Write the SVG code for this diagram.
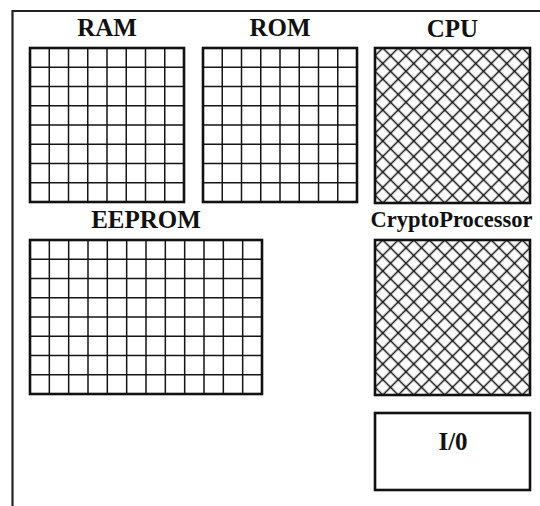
<svg xmlns="http://www.w3.org/2000/svg" width="540" height="506" viewBox="0 0 540 506">
  <style>
    .label { font-family: "Liberation Serif", "DejaVu Serif", serif; font-weight: bold; font-size: 25px; fill: #111; text-anchor: middle; }
    .box { fill: none; stroke: #111; stroke-width: 2.6; }
    .grid { fill: none; stroke: #151515; stroke-width: 1.5; }
    .frame { fill: none; stroke: #222; stroke-width: 2.2; }
  </style>
  <defs>
    <!-- diagonal cross-hatch used for the processing blocks -->
    <pattern id="hatch" patternUnits="userSpaceOnUse" width="10.96" height="10.96" patternTransform="rotate(45)">
      <path d="M0,5.48 H10.96 M5.48,0 V10.96" stroke="#111" stroke-width="1.5" fill="none"/>
    </pattern>
  </defs>

  <rect width="540" height="506" fill="#fff"/>

  <!-- chip outline (open to the right and bottom) -->
  <path class="frame" d="M12.5,506 V11 H540"/>

  <g id="ram">
    <text class="label" x="107" y="36">RAM</text>
    <path class="grid" d="M49.25,48 V202 M68.5,48 V202 M87.75,48 V202 M107,48 V202 M126.25,48 V202 M145.5,48 V202 M164.75,48 V202
      M30,67.25 H184 M30,86.5 H184 M30,105.75 H184 M30,125 H184 M30,144.25 H184 M30,163.5 H184 M30,182.75 H184"/>
    <rect class="box" x="30" y="48" width="154" height="154"/>
  </g>

  <g id="rom">
    <text class="label" x="280" y="36">ROM</text>
    <path class="grid" d="M222.25,48 V202 M241.5,48 V202 M260.75,48 V202 M280,48 V202 M299.25,48 V202 M318.5,48 V202 M337.75,48 V202
      M203,67.25 H357 M203,86.5 H357 M203,105.75 H357 M203,125 H357 M203,144.25 H357 M203,163.5 H357 M203,182.75 H357"/>
    <rect class="box" x="203" y="48" width="154" height="154"/>
  </g>

  <g id="cpu">
    <text class="label" x="452.5" y="37">CPU</text>
    <g transform="translate(375,48)">
      <rect x="0" y="0" width="155" height="155" fill="url(#hatch)"/>
      <rect class="box" x="0" y="0" width="155" height="155"/>
    </g>
  </g>

  <g id="eeprom">
    <text class="label" x="146" y="228">EEPROM</text>
    <path class="grid" d="M49.33,240 V394 M68.67,240 V394 M88,240 V394 M107.33,240 V394 M126.67,240 V394 M146,240 V394 M165.33,240 V394 M184.67,240 V394 M204,240 V394 M223.33,240 V394 M242.67,240 V394
      M30,259.25 H262 M30,278.5 H262 M30,297.75 H262 M30,317 H262 M30,336.25 H262 M30,355.5 H262 M30,374.75 H262"/>
    <rect class="box" x="30" y="240" width="232" height="154"/>
  </g>

  <g id="cryptoprocessor">
    <text class="label" x="451.5" y="227" style="font-size:22.5px">CryptoProcessor</text>
    <g transform="translate(375,240)">
      <rect x="0" y="0" width="155" height="155" fill="url(#hatch)"/>
      <rect class="box" x="0" y="0" width="155" height="155"/>
    </g>
  </g>

  <g id="io">
    <rect class="box" x="375" y="413" width="155" height="77" fill="#fff"/>
    <text class="label" x="453" y="450" style="font-size:25px">I/0</text>
  </g>
</svg>
